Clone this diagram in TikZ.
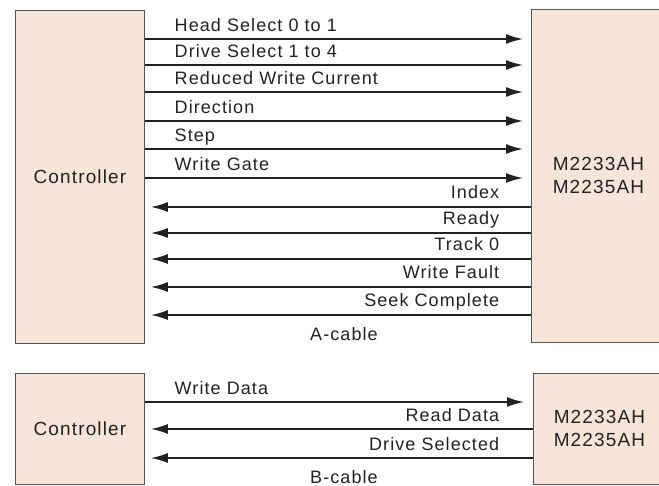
\documentclass[tikz,border=0pt]{standalone}
\usepackage{fontspec}
\setmainfont{Liberation Sans}
\newfontfamily\sigfont{Liberation Sans}[LetterSpace=6.0]
\usepackage{tikz}
\usetikzlibrary{positioning,arrows.meta}
\definecolor{boxfill}{HTML}{F8E5DA}
\definecolor{boxline}{HTML}{555555}
\definecolor{ink}{HTML}{222222}
\tikzset{blkbox/.style={draw=boxline, fill=boxfill, line width=0.9pt, text=ink, align=center, font=\sigfont\fontsize{19}{23}\selectfont},
  sig/.style={line width=1.6pt, draw=ink, -{Latex[length=17pt,width=10pt]}},
  lblR/.style={pos=0, anchor=base west, inner sep=0pt, xshift=29pt, yshift=7pt, text=ink, font=\sigfont\fontsize{18}{22}\selectfont},
  lblL/.style={pos=0, anchor=base east, inner sep=0pt, xshift=-31pt, yshift=8pt, text=ink, font=\sigfont\fontsize{18}{22}\selectfont},}

\begin{document}
\begin{tikzpicture}[x=1pt, y=-1pt]
\useasboundingbox (0,0) rectangle (659,486);
% A-cable
\node [blkbox, minimum width=129pt, minimum height=333pt, anchor=north west] (ctrlA) at (15,10) {Controller};
\node [blkbox, minimum width=134pt, minimum height=333pt, anchor=north west] (drvA) at (531,9) {M2233AH\\M2235AH};
\draw[sig, shorten >=8pt] (ctrlA.east |- 0,39) -- (drvA.west |- 0,39) node[lblR] {Head Select 0 to 1};
\draw[sig, shorten >=8pt] (ctrlA.east |- 0,65) -- (drvA.west |- 0,65) node[lblR] {Drive Select 1 to 4};
\draw[sig, shorten >=8pt] (ctrlA.east |- 0,92) -- (drvA.west |- 0,92) node[lblR] {Reduced Write Current};
\draw[sig, shorten >=8pt] (ctrlA.east |- 0,121) -- (drvA.west |- 0,121) node[lblR] {Direction};
\draw[sig, shorten >=8pt] (ctrlA.east |- 0,149) -- (drvA.west |- 0,149) node[lblR] {Step};
\draw[sig, shorten >=8pt] (ctrlA.east |- 0,178) -- (drvA.west |- 0,178) node[lblR] {Write Gate};
\draw[sig, shorten >=6pt] (drvA.west |- 0,207) -- (ctrlA.east |- 0,207) node[lblL] {Index};
\draw[sig, shorten >=6pt] (drvA.west |- 0,233) -- (ctrlA.east |- 0,233) node[lblL] {Ready};
\draw[sig, shorten >=6pt] (drvA.west |- 0,259) -- (ctrlA.east |- 0,259) node[lblL] {Track 0};
\draw[sig, shorten >=6pt] (drvA.west |- 0,287) -- (ctrlA.east |- 0,287) node[lblL] {Write Fault};
\draw[sig, shorten >=6pt] (drvA.west |- 0,315) -- (ctrlA.east |- 0,315) node[lblL] {Seek Complete};
\node [text=ink, font=\sigfont\fontsize{18}{22}\selectfont] (cabA) at (344,334) {A-cable};
% B-cable
\node [blkbox, minimum width=129pt, minimum height=111pt, anchor=north west] (ctrlB) at (15,373) {Controller};
\node [blkbox, minimum width=132pt, minimum height=111pt, anchor=north west] (drvB) at (533,373) {M2233AH\\M2235AH};
\draw[sig, shorten >=9pt] (ctrlB.east |- 0,402) -- (drvB.west |- 0,402) node[lblR] {Write Data};
\draw[sig, shorten >=6pt] (drvB.west |- 0,429) -- (ctrlB.east |- 0,429) node[lblL, xshift=-2pt] {Read Data};
\draw[sig, shorten >=6pt] (drvB.west |- 0,458) -- (ctrlB.east |- 0,458) node[lblL, xshift=-2pt] {Drive Selected};
\node [text=ink, font=\sigfont\fontsize{18}{22}\selectfont] (cabB) at (344,477) {B-cable};
\end{tikzpicture}
\end{document}
